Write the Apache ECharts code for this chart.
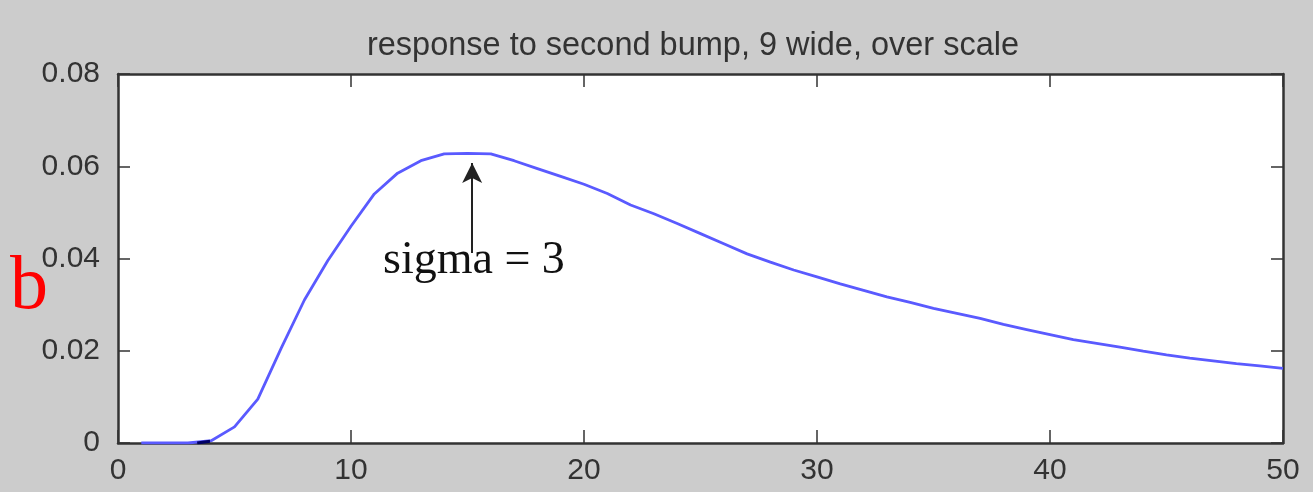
<!DOCTYPE html>
<html>
<head>
<meta charset="utf-8">
<script src="https://cdn.jsdelivr.net/npm/echarts@6/dist/echarts.min.js"></script>
<style>
  html, body { margin: 0; padding: 0; background: #cccccc; }
  #chart { width: 1313px; height: 492px; }
</style>
</head>
<body>
<div id="chart"></div>
<script>
// Response curve sampled at integer steps
const xValues = [1, 2, 3, 4, 5, 6, 7, 8, 9, 10,
  11, 12, 13, 14, 15, 16, 17, 18, 19, 20,
  21, 22, 23, 24, 25, 26, 27, 28, 29, 30,
  31, 32, 33, 34, 35, 36, 37, 38, 39, 40,
  41, 42, 43, 44, 45, 46, 47, 48, 49, 50];
const responseValues = [0, 0, 0, 0.0005, 0.0035, 0.0095, 0.0205, 0.031, 0.0395, 0.047,
  0.054, 0.0585, 0.0612, 0.0627, 0.0628, 0.0627, 0.0612, 0.0595, 0.0578, 0.0561,
  0.0541, 0.0516, 0.0497, 0.0476, 0.0454, 0.0432, 0.041, 0.0392, 0.0375, 0.036,
  0.0345, 0.0331, 0.0317, 0.0305, 0.0292, 0.0281, 0.027, 0.0257, 0.0246, 0.0235,
  0.0224, 0.0216, 0.0208, 0.0199, 0.0191, 0.0184, 0.0178, 0.0172, 0.0167, 0.0162];

// Short dark overlay where the curve leaves zero
const onsetX = [3.4, 3.95];
const onsetY = [0, 0.0004];

// Annotation arrow (data coordinates): from label up to the peak
const arrowX = 15.2;
const arrowFromY = 0.0412;
const arrowToY = 0.0607;

const titleText = 'response to second bump, 9 wide, over scale';
const annotationText = 'sigma = 3';
const panelLetter = 'b';

const axisColor = '#333333';
const labelFont = '"Liberation Sans", Arial, sans-serif';

const chart = echarts.init(document.getElementById('chart'), null, { renderer: 'canvas' });

const xAxisCommon = {
  type: 'value', min: 0, max: 50, interval: 10,
  axisLine: { show: true, onZero: false, lineStyle: { color: axisColor, width: 2.5 } },
  axisTick: { show: true, inside: true, length: 13, lineStyle: { color: axisColor, width: 1.5 } },
  splitLine: { show: false }
};
const yAxisCommon = {
  type: 'value', min: 0, max: 0.08, interval: 0.02,
  axisLine: { show: true, onZero: false, lineStyle: { color: axisColor, width: 2.5 } },
  axisTick: { show: true, inside: true, length: 12, lineStyle: { color: axisColor, width: 1.5 } },
  splitLine: { show: false }
};

chart.setOption({
  backgroundColor: '#cccccc',
  animation: false,
  title: {
    text: titleText,
    left: 688, top: 25, textAlign: 'center',
    textStyle: { fontFamily: labelFont, fontSize: 32.5, fontWeight: 'normal', color: '#333333' }
  },
  grid: { left: 118, right: 30, top: 74, bottom: 49, show: true, backgroundColor: '#ffffff', borderWidth: 0 },
  xAxis: [
    Object.assign({}, xAxisCommon, {
      position: 'bottom',
      axisLabel: { show: true, margin: 13, fontFamily: labelFont, fontSize: 30, color: '#333333' }
    }),
    Object.assign({}, xAxisCommon, { position: 'top', axisLabel: { show: false } })
  ],
  yAxis: [
    Object.assign({}, yAxisCommon, {
      position: 'left',
      axisLabel: { show: true, margin: 18, fontFamily: labelFont, fontSize: 30, color: '#333333' }
    }),
    Object.assign({}, yAxisCommon, { position: 'right', axisLabel: { show: false } })
  ],
  series: [
    {
      type: 'line',
      data: xValues.map((x, i) => [x, responseValues[i]]),
      showSymbol: false,
      symbol: 'none',
      lineStyle: { color: '#5a5aff', width: 2.8 },
      silent: true,
      z: 3,
      markLine: {
        silent: true,
        symbol: ['none', 'arrow'],
        symbolSize: [15, 20],
        label: { show: false },
        lineStyle: { color: '#222222', width: 2, type: 'solid' },
        data: [[{ coord: [arrowX, arrowFromY] }, { coord: [arrowX, arrowToY] }]]
      }
    },
    {
      type: 'line',
      data: onsetX.map((x, i) => [x, onsetY[i]]),
      showSymbol: false,
      symbol: 'none',
      lineStyle: { color: '#000066', width: 3 },
      silent: true,
      z: 4
    }
  ],
  graphic: [
    {
      type: 'text', left: 383, top: 238, z: 10,
      style: { text: annotationText, font: '46px "Liberation Serif", "Times New Roman", serif', fill: '#111111' }
    },
    {
      type: 'text', left: 10, top: 250, z: 10,
      style: { text: panelLetter, font: '76px "Liberation Serif", "Times New Roman", serif', fill: '#ff0000' }
    }
  ]
});
</script>
</body>
</html>
